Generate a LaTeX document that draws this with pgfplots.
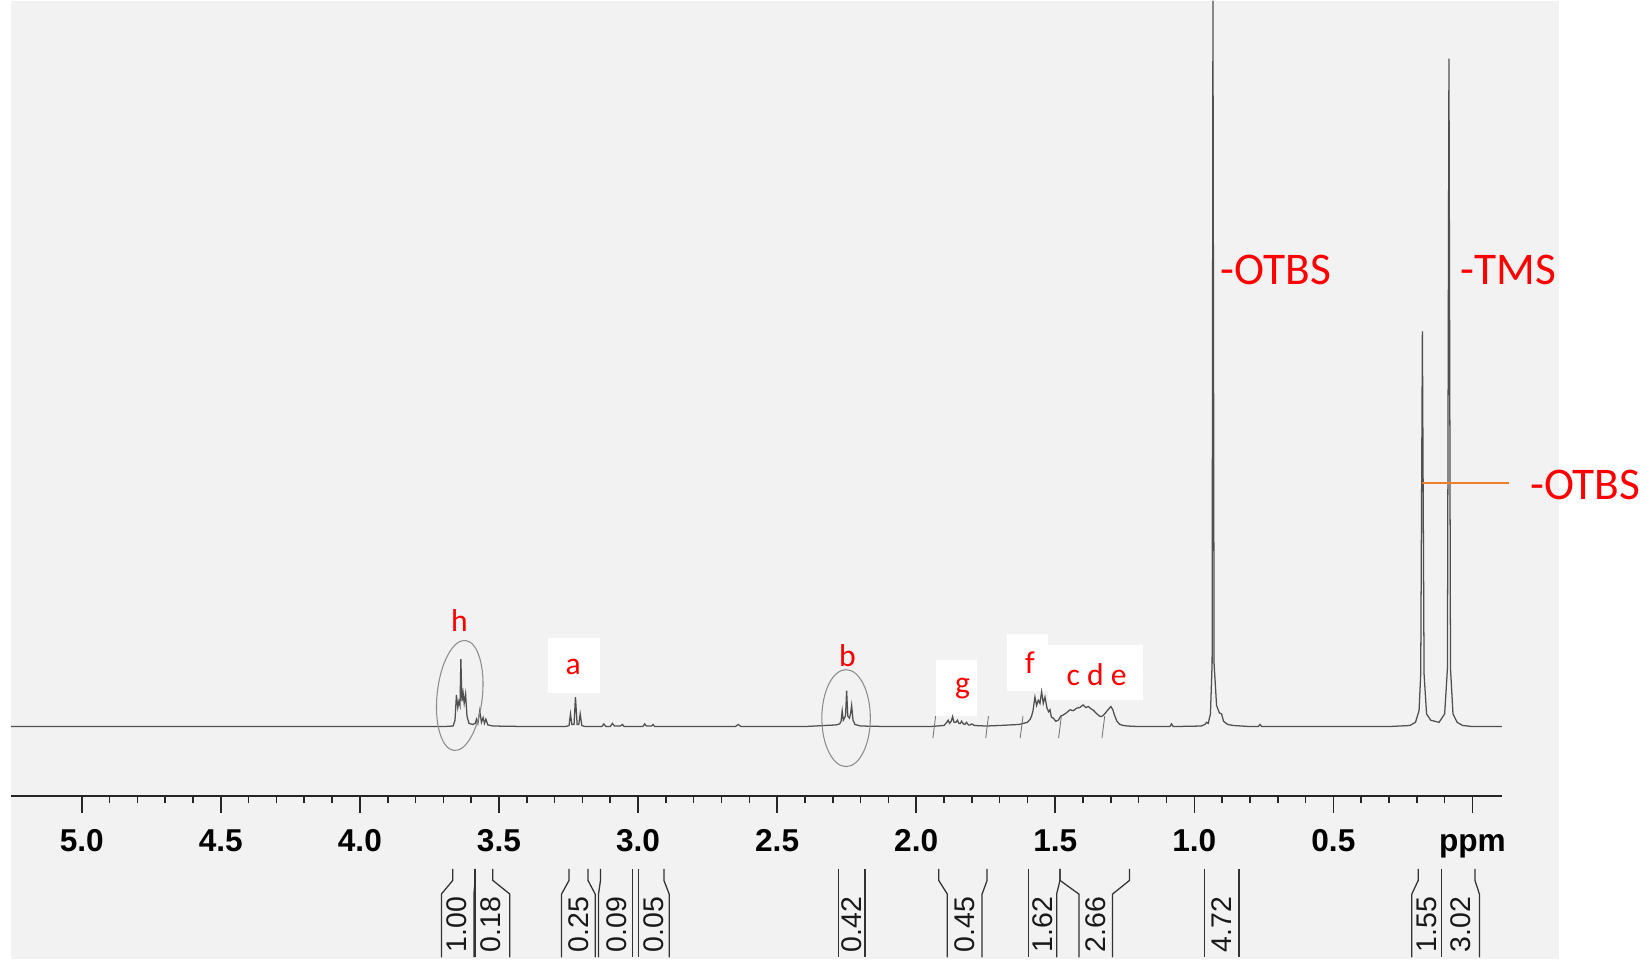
\documentclass[border=0pt]{standalone}
\usepackage{pgfplots}
\pgfplotsset{compat=1.18}
\usepackage{fontspec}
\setmainfont{Liberation Sans}
\newfontfamily\calfont{Carlito}
\definecolor{specgray}{HTML}{505050}
\definecolor{labred}{HTML}{FF0000}
\definecolor{orangeline}{HTML}{ED7D31}
% integral bracket: topL, topR, boxL, boxR, centre, label
\newcommand{\integ}[6]{%
  \draw[black!80, line width=0.6pt] (axis cs:#1,-135) -- (axis cs:#1,-146) -- (axis cs:#3,-159) -- (axis cs:#3,-219);
  \draw[black!80, line width=0.6pt] (axis cs:#2,-135) -- (axis cs:#2,-146) -- (axis cs:#4,-159) -- (axis cs:#4,-219);
  \node[rotate=90, inner sep=0pt, text=black!90, font=\fontsize{13.5}{13.5}\selectfont] at (axis cs:#5,-188) {#6};
}
\newcommand{\imark}[2]{\draw[black!55, line width=0.4pt] (axis cs:#1,-11) -- (axis cs:#2,10);}
\begin{document}
\begin{tikzpicture}
\begin{axis}[
  scale only axis, width=707.5pt, height=377.5pt,
  xmin=-0.106, xmax=5.254, ymin=-66, ymax=689,
  x dir=reverse,
  axis x line=bottom, axis y line=none,
  axis line style={-, line width=1pt, black!85},
  xtick={0,0.5,1,1.5,2,2.5,3,3.5,4,4.5,5},
  xticklabels={ppm,0.5,1.0,1.5,2.0,2.5,3.0,3.5,4.0,4.5,5.0},
  minor x tick num=4,
  tick align=outside,
  major tick length=8pt, minor tick length=3.5pt,
  every tick/.style={black!85, line width=0.75pt},
  xticklabel style={font=\fontsize{15}{15}\selectfont\bfseries, anchor=base, yshift=-18.5pt},
  clip=false, axis on top,
]
% paper background
\fill[black!5] (axis cs:5.256,-221) rectangle (axis cs:-0.312,689);
% white boxes behind labels
\fill[white] (axis cs:3.324,32.2) rectangle (axis cs:3.137,84.4);
\fill[white] (axis cs:1.927,10.4) rectangle (axis cs:1.783,63.5);
\fill[white] (axis cs:1.675,34) rectangle (axis cs:1.525,88);
\fill[white] (axis cs:1.525,25) rectangle (axis cs:1.183,77);

% spectrum
\addplot[specgray, line width=0.6pt] coordinates {
(5.254,0) (3.700,0) (3.665,0.5) (3.658,6) (3.653,30) (3.648,18) (3.644,24) (3.640,20)
(3.637,64) (3.633,24) (3.629,32) (3.625,22) (3.620,31) (3.615,10) (3.608,3) (3.595,2)
(3.585,3) (3.581,7) (3.576,3) (3.569,15) (3.563,4) (3.557,8.5) (3.552,3) (3.547,7)
(3.540,1.5) (3.520,0.5) (3.400,0) (3.260,0) (3.248,1) (3.243,12) (3.238,2) (3.230,2)
(3.225,28) (3.219,2) (3.213,2) (3.208,12) (3.202,1) (3.190,0) (3.130,0) (3.123,2.5)
(3.115,0) (3.100,0) (3.092,3) (3.085,0.5) (3.063,0.5) (3.056,2) (3.050,0) (2.983,0)
(2.976,2.5) (2.970,0.5) (2.952,0.5) (2.946,2) (2.940,0) (2.650,0) (2.640,2) (2.630,0)
(2.400,0) (2.330,1) (2.290,1.5) (2.275,2.5) (2.270,5) (2.266,15) (2.262,6) (2.258,8)
(2.254,10) (2.250,34) (2.246,10) (2.240,8) (2.236,12) (2.232,20) (2.227,6) (2.220,2)
(2.200,0.5) (2.100,0) (1.950,0) (1.900,1) (1.890,4) (1.885,6) (1.880,3) (1.874,5)
(1.869,9.5) (1.864,4) (1.857,4) (1.852,6) (1.846,3) (1.841,3) (1.837,5) (1.830,2.5)
(1.825,2) (1.819,4) (1.812,1.5) (1.806,1.5) (1.801,2.5) (1.790,1) (1.750,0.5) (1.700,1)
(1.630,2) (1.600,4) (1.590,7) (1.585,10) (1.580,15) (1.573,28) (1.567,20) (1.561,25)
(1.555,22) (1.549,33) (1.543,22) (1.537,28) (1.530,18) (1.524,14) (1.519,16) (1.514,9)
(1.507,8) (1.498,5) (1.489,6) (1.480,10) (1.471,11) (1.460,13) (1.447,16) (1.435,15)
(1.423,17.5) (1.412,18) (1.400,20.5) (1.390,18) (1.381,19) (1.372,17) (1.363,15.5)
(1.350,12) (1.339,9.5) (1.330,10) (1.321,12.5) (1.310,16) (1.300,19) (1.293,16)
(1.286,10) (1.278,5) (1.268,2) (1.255,1) (1.240,0.5) (1.200,0) (1.088,0) (1.082,2.5)
(1.076,0) (0.975,0.5) (0.962,2) (0.956,4) (0.950,3) (0.942,12) (0.936,60) (0.933,689)
(0.929,60) (0.920,20) (0.910,13) (0.902,12) (0.895,5) (0.880,2) (0.860,1) (0.800,0)
(0.770,0) (0.764,2) (0.758,0) (0.300,0) (0.225,1) (0.205,4) (0.192,15) (0.186,50)
(0.180,375) (0.174,50) (0.165,12) (0.150,6) (0.120,4) (0.100,12) (0.090,55)
(0.0845,634) (0.079,55) (0.070,12) (0.055,4) (0.035,1) (0.000,0) (-0.106,0)
};

% integral marks on the trace
\imark{1.940}{1.930}
\imark{1.750}{1.740}
\imark{1.626}{1.616}
\imark{1.488}{1.478}
\imark{1.332}{1.322}

% hand-drawn loops
\draw[black!45, line width=0.5pt, rotate around={-6:(axis cs:3.641,29.5)}] (axis cs:3.641,29.5) ellipse [x radius=10.75pt, y radius=26.25pt];
\draw[black!45, line width=0.5pt] (axis cs:2.252,8) ellipse [x radius=11.5pt, y radius=23pt];

% peak letters
\begin{scope}[every node/.style={text=labred, font=\calfont\fontsize{15}{15}\selectfont, inner sep=0pt}]
\node at (axis cs:3.642,100.5) {h};
\node at (axis cs:3.233,57) {a};
\node at (axis cs:2.247,67.3) {b};
\node at (axis cs:1.833,35.7) {g};
\node at (axis cs:1.591,61) {f};
\node at (axis cs:1.351,49.3) {c d e};
\end{scope}

% group labels
\begin{scope}[every node/.style={text=labred, font=\calfont\fontsize{21.5}{21.5}\selectfont, inner sep=0pt, anchor=west}]
\node at (axis cs:0.9068,433.4) {-OTBS};
\node at (axis cs:0.045,433.4) {-TMS};
\node at (axis cs:-0.206,229) {-OTBS};
\end{scope}
\draw[orangeline, line width=1pt] (axis cs:0.180,231.2) -- (axis cs:-0.132,231.2);

% integrals
\integ{3.666}{3.586}{3.707}{3.590}{3.652}{1.00}
\integ{3.586}{3.522}{3.586}{3.461}{3.529}{0.18}
\integ{3.248}{3.180}{3.275}{3.154}{3.214}{0.25}
\integ{3.135}{3.021}{3.142}{3.021}{3.078}{0.09}
\integ{2.998}{2.907}{2.998}{2.888}{2.945}{0.05}
\integ{2.279}{2.184}{2.279}{2.184}{2.231}{0.42}
\integ{1.919}{1.745}{1.888}{1.763}{1.826}{0.45}
\integ{1.597}{1.483}{1.597}{1.495}{1.544}{1.62}
\integ{1.483}{1.233}{1.415}{1.294}{1.355}{2.66}
\integ{0.964}{0.839}{0.964}{0.839}{0.902}{4.72}
\integ{0.195}{0.112}{0.218}{0.112}{0.165}{1.55}
\integ{0.112}{-0.009}{0.112}{-0.025}{0.044}{3.02}

% fix the picture's extent
\path (axis cs:5.294,-221) rectangle (axis cs:-0.6455,689);
\end{axis}
\end{tikzpicture}
\end{document}
